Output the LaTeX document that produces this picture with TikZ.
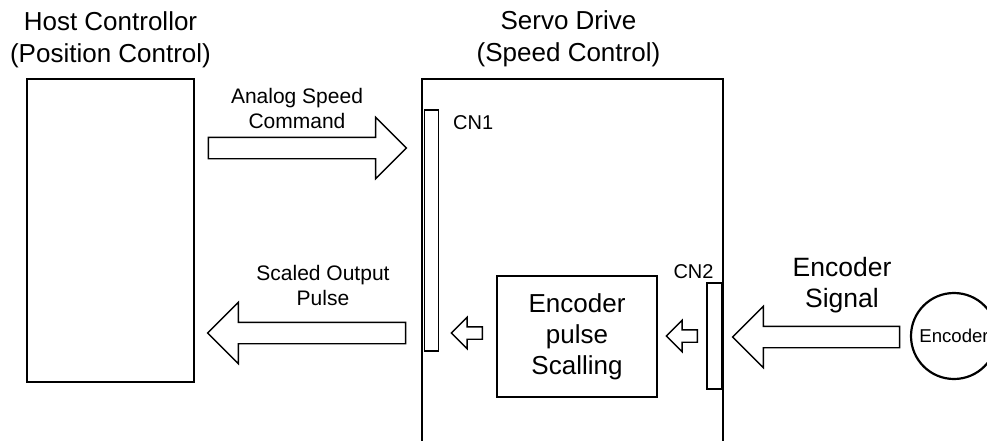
\documentclass[tikz,border=0pt]{standalone}
\usepackage{fontspec}
\setmainfont{Liberation Sans}
\usetikzlibrary{shapes.arrows, positioning}

\begin{document}
\begin{tikzpicture}[
    x=1pt, y=-1pt, % one unit per pixel, measured from the top left
    unit/.style={rectangle, draw, line width=2.4pt, inner sep=0pt},
    block/.style={rectangle, draw, line width=1.6pt, inner sep=0pt, align=center, font=\fontsize{26}{31}\selectfont},
    port/.style={rectangle, draw, fill=white, line width=1.5pt, inner sep=0pt},
    heading/.style={align=center, inner sep=0pt, font=\fontsize{26}{32}\selectfont},
    sigtext/.style={align=center, inner sep=0pt, font=\fontsize{21}{25}\selectfont},
    bigarrow/.style={single arrow, draw, line width=1.4pt, inner sep=10pt, single arrow head extend=20pt, minimum height=198pt},
    smallarrow/.style={single arrow, draw, line width=1.4pt, inner sep=5.5pt, single arrow head extend=9.5pt, minimum height=31pt}
]
    \useasboundingbox (0,0) rectangle (987,441);

    % Main units
    \node[unit, minimum width=301pt, minimum height=391pt] (servo) at (572.5,274.5) {};
    \node[unit, minimum width=167pt, minimum height=303pt] (host) at (110.5,230.5) {};
    \node[heading, above=9.5pt of host] (hosttitle) {Host Controllor\\(Position Control)};
    \node[heading, above=10.5pt of servo, xshift=-4pt] (servotitle) {Servo Drive\\(Speed Control)};

    % Connectors on the drive
    \node[port, minimum width=14pt, minimum height=241pt] (cn1) at (431.5,230.5) {};
    \node[port, minimum width=15pt, minimum height=106pt] (cn2) at (714.5,336) {};
    \node[font=\fontsize{20}{24}\selectfont, anchor=west, inner sep=0pt] (cn1label) at (453,123) {CN1};
    \node[font=\fontsize{20}{24}\selectfont, inner sep=0pt] (cn2label) at (693.5,272) {CN2};

    % Pulse scaling block and encoder
    \node[block, minimum width=160pt, minimum height=121pt] (scaling) at (577,336.5) {Encoder\\pulse\\Scalling};
    \node[circle, draw, line width=2.2pt, minimum size=86pt, inner sep=0pt, font=\fontsize{18.6}{22}\selectfont] (encoder) at (954,336) {Encoder};

    % Signal arrows
    \node[bigarrow] (cmdarrow) at (302,148) {};
    \node[bigarrow, shape border rotate=180] (outarrow) at (312,333) {};
    \node[bigarrow, shape border rotate=180, minimum height=167pt] (encarrow) at (821.5,337) {};
    \node[smallarrow, shape border rotate=180] (cn1arrow) at (470,333) {};
    \node[smallarrow, shape border rotate=180] (cn2arrow) at (685,336) {};

    % Arrow labels
    \node[sigtext, anchor=south] (cmdtext) at (297,129) {Analog Speed\\Command};
    \node[sigtext, anchor=south] (outtext) at (323,305.5) {Scaled Output\\Pulse};
    \node[sigtext, anchor=south, font=\fontsize{26.5}{31}\selectfont] (enctext) at (842,313) {Encoder\\Signal};
\end{tikzpicture}
\end{document}
